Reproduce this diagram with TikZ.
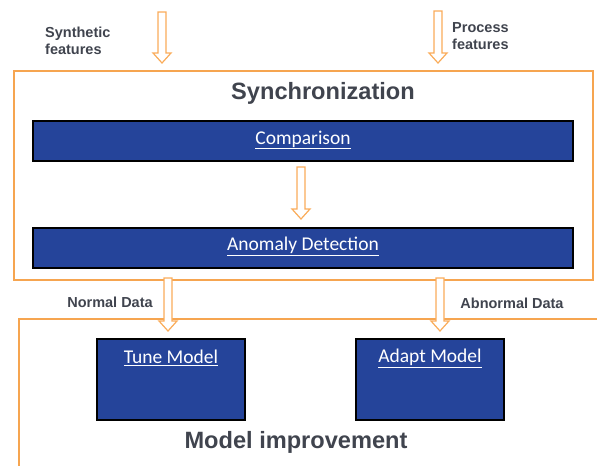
\documentclass[tikz,border=0pt]{standalone}
\usepackage{fontspec}
\setmainfont{Liberation Sans}
\newfontfamily\calib{Carlito}
\definecolor{orng}{RGB}{246,165,80}
\definecolor{arrc}{RGB}{250,172,90}
\definecolor{boxblue}{RGB}{37,68,154}
\definecolor{lbl}{RGB}{64,68,78}
\tikzset{
  frame/.style={draw=orng, line width=1.2pt, inner sep=0pt},
  bluebox/.style={draw=black, line width=2.6pt, fill=boxblue, inner sep=0pt},
  boxtext/.style={text=white, font=\calib\fontsize{19.5}{22}\selectfont, inner sep=0pt},
  lbltext/.style={text=lbl, font=\bfseries\fontsize{14.5}{17}\selectfont, inner sep=0pt, align=left},
  titletext/.style={text=lbl, font=\bfseries\fontsize{23.6}{27}\selectfont, inner sep=0pt},
  blockarrow/.style={draw=arrc, line width=1.2pt, fill=white, line join=miter}
}
\newcommand\blockarr[3]{\draw[blockarrow] (#1-4,#2) -- (#1+4,#2) -- (#1+4,#3-10) -- (#1+9,#3-10) -- (#1,#3) -- (#1-9,#3-10) -- (#1-4,#3-10) -- cycle;}
\begin{document}
\begin{tikzpicture}[x=1pt,y=-1pt]
\useasboundingbox (0,0) rectangle (597,466);
% frames
\node[frame, minimum width=579pt, minimum height=209pt] (sync) at (303.5,175.5) {};
\coordinate (mi1) at (597,319);
\coordinate (mi2) at (19,319);
\coordinate (mi3) at (19,466);
\draw[orng, line width=1.2pt] (mi1) -- (mi2) -- (mi3);
% blue boxes
\node[bluebox, minimum width=540pt, minimum height=40pt] (comp) at (303,141) {};
\node[boxtext] at (303,140) {\underline{Comparison}};
\node[bluebox, minimum width=540pt, minimum height=40pt] (anom) at (303,248) {};
\node[boxtext] at (303,246) {\underline{Anomaly Detection}};
\node[bluebox, minimum width=148pt, minimum height=81pt] (tune) at (171,379.5) {};
\node[boxtext] at (171,358) {\underline{Tune Model}};
\node[bluebox, minimum width=148pt, minimum height=81pt] (adapt) at (430,379.5) {};
\node[boxtext] at (430,358) {\underline{Adapt Model}};
% titles and labels
\node[titletext] (synct) at (323,93) {Synchronization};
\node[titletext] (mit) at (296,442) {Model improvement};
\node[lbltext, anchor=west] (synf) at (45,41) {Synthetic\\features};
\node[lbltext, anchor=west] (procf) at (452,36) {Process\\features};
\node[lbltext] (nd) at (110,302) {Normal Data};
\node[lbltext] (ad) at (512,303) {Abnormal Data};
% block arrows
\blockarr{162}{12}{63}
\blockarr{438}{11}{63}
\blockarr{301}{167}{219}
\blockarr{168}{278}{331}
\blockarr{440}{278}{331}
\end{tikzpicture}
\end{document}
